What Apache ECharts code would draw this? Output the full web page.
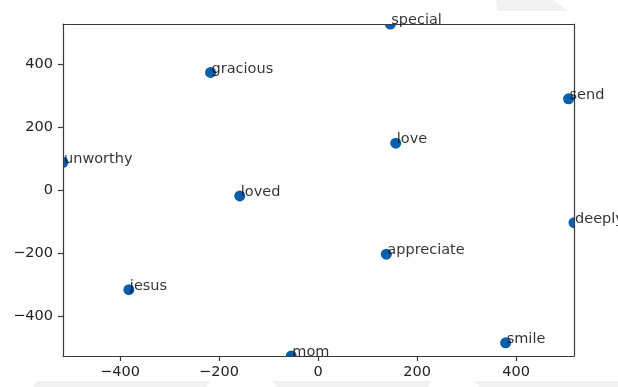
<!DOCTYPE html>
<html>
<head>
<meta charset="utf-8">
<script src="https://cdn.jsdelivr.net/npm/echarts@6/dist/echarts.min.js"></script>
<style>
html,body{margin:0;padding:0;background:#fff;}
#chart{width:618px;height:387px;}
</style>
</head>
<body>
<div id="chart"></div>
<script>
var words = ['special','gracious','send','love','unworthy','loved','deeply','appreciate','jesus','smile','mom'];
var xValues = [146,-217,506,157,-515,-158,517,138,-382,379,-54];
var yValues = [528,374,290,149,88,-19,-104,-204,-317,-486,-528];
var xTicks = [-400,-200,0,200,400];
var yTicks = [-400,-200,0,200,400];
var xRange = [-515,517];
var yRange = [-528,528];

var points = words.map(function(w,i){ return [xValues[i], yValues[i], w]; });

var G = {left:63, right:574, top:24, bottom:356};
var fontFam = '"DejaVu Sans", sans-serif';
var axisColor = '#3a3a3a';
var wm = '#f1f1f1';

function fmt(v){ return String(v).replace('-', '\u2212'); }

var chart = echarts.init(document.getElementById('chart'), null, {renderer:'canvas'});
chart.setOption({
  animation:false,
  backgroundColor:'#fff',
  grid:{left:G.left, top:G.top, width:G.right-G.left, height:G.bottom-G.top, containLabel:false},
  xAxis:[{
    type:'value', min:xRange[0], max:xRange[1], zlevel:2,
    axisLine:{show:true, onZero:false, lineStyle:{color:axisColor, width:1.2}},
    axisTick:{show:true, customValues:xTicks, length:5, lineStyle:{color:axisColor, width:1.2}},
    axisLabel:{customValues:xTicks, formatter:fmt, color:'#222', fontSize:14.5, fontFamily:fontFam, margin:9},
    splitLine:{show:false}
  },{
    type:'value', position:'top', min:xRange[0], max:xRange[1], zlevel:2,
    axisLine:{show:true, onZero:false, lineStyle:{color:axisColor, width:1.2}},
    axisTick:{show:false}, axisLabel:{show:false}, splitLine:{show:false}
  }],
  yAxis:[{
    type:'value', min:yRange[0], max:yRange[1], zlevel:2,
    axisLine:{show:true, onZero:false, lineStyle:{color:axisColor, width:1.2}},
    axisTick:{show:true, customValues:yTicks, length:5, lineStyle:{color:axisColor, width:1.2}},
    axisLabel:{customValues:yTicks, formatter:fmt, color:'#222', fontSize:14.5, fontFamily:fontFam, margin:10},
    splitLine:{show:false}
  },{
    type:'value', position:'right', min:yRange[0], max:yRange[1], zlevel:2,
    axisLine:{show:true, onZero:false, lineStyle:{color:axisColor, width:1.2}},
    axisTick:{show:false}, axisLabel:{show:false}, splitLine:{show:false}
  }],
  graphic:[
    {type:'polygon', z:-1, silent:true, shape:{points:[[496,0],[553,0],[567,11],[498,11]]}, style:{fill:wm}},
    {type:'polygon', z:-1, silent:true, shape:{points:[[38,381],[212,381],[206,387],[33,387]]}, style:{fill:wm}},
    {type:'polygon', z:-1, silent:true, shape:{points:[[272,381],[432,381],[428,387],[278,387]]}, style:{fill:wm}},
    {type:'polygon', z:-1, silent:true, shape:{points:[[475,381],[618,381],[618,387],[480,387]]}, style:{fill:wm}}
  ],
  series:[{
    type:'scatter', zlevel:0, z:2, clip:false,
    data:points, symbol:'circle', symbolSize:11,
    itemStyle:{color:'#0a5fad', opacity:1},
    label:{show:false}
  },{
    type:'custom', zlevel:1, silent:true, clip:false,
    data:[[0,0]],
    renderItem:function(params, api){
      var c = params.coordSys;
      var m = 8;
      var st = {fill:'#fff'};
      return {type:'group', children:[
        {type:'rect', shape:{x:c.x-m, y:c.y-m, width:c.width+2*m, height:m}, style:st},
        {type:'rect', shape:{x:c.x-m, y:c.y+c.height, width:c.width+2*m, height:m}, style:st},
        {type:'rect', shape:{x:c.x-m, y:c.y-m, width:m, height:c.height+2*m}, style:st},
        {type:'rect', shape:{x:c.x+c.width, y:c.y-m, width:m, height:c.height+2*m}, style:st}
      ]};
    }
  },{
    type:'scatter', zlevel:2, z:4, clip:false,
    data:points, symbol:'circle', symbolSize:10,
    itemStyle:{color:'rgba(0,0,0,0)'},
    label:{show:true, position:[6,9], align:'left', verticalAlign:'bottom',
      formatter:function(p){ return p.data[2]; },
      color:'#000', fontSize:14.5, fontFamily:fontFam}
  }]
});
</script>
</body>
</html>
